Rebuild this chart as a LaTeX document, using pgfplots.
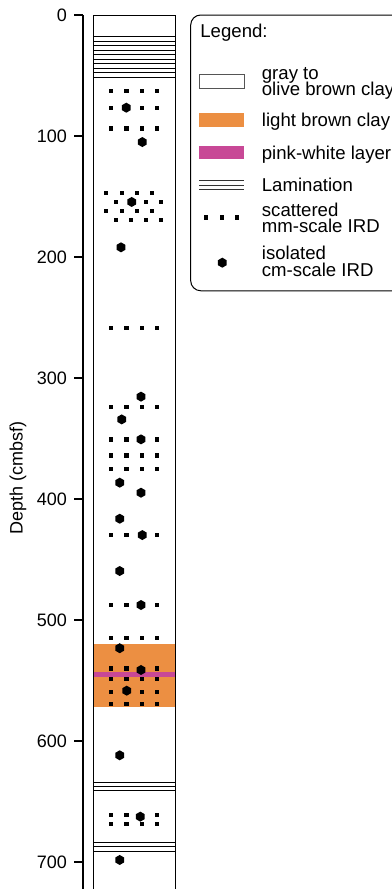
\documentclass[border=0pt]{standalone}
\usepackage{fontspec}
\setmainfont{Liberation Sans}
\usepackage{pgfplots}
\pgfplotsset{compat=1.18}
\definecolor{lbclay}{RGB}{236,143,66}
\definecolor{pinkw}{RGB}{200,72,150}
\definecolor{boxgray}{RGB}{85,85,85}
\pgfdeclareplotmark{hexa}{%
  \pgfpathmoveto{\pgfpointpolar{90}{\pgfplotmarksize}}%
  \pgfpathlineto{\pgfpointpolar{150}{\pgfplotmarksize}}%
  \pgfpathlineto{\pgfpointpolar{210}{\pgfplotmarksize}}%
  \pgfpathlineto{\pgfpointpolar{270}{\pgfplotmarksize}}%
  \pgfpathlineto{\pgfpointpolar{330}{\pgfplotmarksize}}%
  \pgfpathlineto{\pgfpointpolar{30}{\pgfplotmarksize}}%
  \pgfpathclose
  \pgfusepathqfill
}
\begin{document}
\begin{tikzpicture}[font=\fontsize{9}{10.8}\selectfont]
\begin{axis}[
  x=0.5pt, y=0.605pt, y dir=reverse,
  xmin=83, xmax=405, ymin=0, ymax=766,
  axis x line=none, axis y line=left,
  axis line style={-, line width=0.6pt, black},
  ytick={0,100,...,700}, xtick=\empty,
  tick align=outside, major tick length=4.5pt,
  tick style={line width=0.6pt, black},
  ytick pos=left,
  yticklabel style={font=\fontsize{9}{10.8}\selectfont},
  /pgf/number format/assume math mode=true,
  ylabel={Depth (cmbsf)},
  ylabel style={at={(axis description cs:-0.2019,0.5)}, anchor=center, font=\fontsize{9}{10.8}\selectfont},
  clip=false,
]
% light brown clay and pink-white layer
\addplot[fill=lbclay, draw=none] coordinates {(93,519.8)(175,519.8)(175,572.2)(93,572.2)} -- cycle;
\addplot[fill=pinkw, draw=none] coordinates {(93,543.2)(175,543.2)(175,546.8)(93,546.8)} -- cycle;
% column outline
\addplot[black, line width=0.5pt] coordinates {(93,0)(175,0)(175,766)(93,766)} -- cycle;
% laminations
\addplot[black, line width=0.5pt, unbounded coords=jump] coordinates {
(93,17.9)(175,17.9)(175,nan)
(93,21.6)(175,21.6)(175,nan)
(93,25.3)(175,25.3)(175,nan)
(93,29.1)(175,29.1)(175,nan)
(93,32.8)(175,32.8)(175,nan)
(93,36.5)(175,36.5)(175,nan)
(93,40.2)(175,40.2)(175,nan)
(93,43.9)(175,43.9)(175,nan)
(93,47.7)(175,47.7)(175,nan)
(93,51.4)(175,51.4)(175,nan)
(93,634.1)(175,634.1)(175,nan)
(93,637.7)(175,637.7)(175,nan)
(93,641.3)(175,641.3)(175,nan)
(93,683.7)(175,683.7)(175,nan)
(93,687.4)(175,687.4)(175,nan)
(93,691.1)(175,691.1)
};
% scattered mm-scale IRD
\addplot[only marks, mark=square*, mark size=0.8pt, mark options={draw=none, fill=black}] coordinates {
(111,62.8)(126.3,62.8)(141.5,62.8)(156.7,62.8)
(111,76.6)(141.5,76.6)(156.7,76.6)
(111,93.7)(126.3,93.7)(141.5,93.7)(156.7,93.7)
(106,146.8)(121.7,146.8)(136.7,146.8)(151.7,146.8)
(116,154.5)(146,154.5)(161,154.5)
(106,162)(121.7,162)(136.7,162)(151.7,162)
(116,169.4)(131,169.4)(146,169.4)(161,169.4)
(111,258.7)(126.3,258.7)(141.5,258.7)(156.7,258.7)
(111,324.2)(126.3,324.2)(141.5,324.2)(156.7,324.2)
(111,350.7)(126.3,350.7)(156.7,350.7)
(111,364)(126.3,364)(141.5,364)(156.7,364)
(111,375.2)(126.3,375.2)(141.5,375.2)(156.7,375.2)
(111,429.8)(126.3,429.8)(156.7,429.8)
(111,487.6)(126.3,487.6)(156.7,487.6)
(111,515.1)(126.3,515.1)(141.5,515.1)(156.7,515.1)
(111,540)(126.3,540)(156.7,540)
(111,548.5)(126.3,548.5)(141.5,548.5)(156.7,548.5)
(111,559.2)(141.5,559.2)(156.7,559.2)
(111,569.4)(126.3,569.4)(141.5,569.4)(156.7,569.4)
(111,661.2)(126.3,661.2)(156.7,661.2)
(111,668.6)(126.3,668.6)(141.5,668.6)(156.7,668.6)
};
% isolated cm-scale IRD
\addplot[only marks, mark=hexa, mark size=2.5pt, mark options={fill=black}] coordinates {
(126.3,76.6)(142.3,105)(131.7,154.5)(121,192)(141,315.4)(121.7,334.2)
(141,350.7)(119.7,386.5)(141,394.8)(119.7,416.3)(142.3,429.8)(119.7,459.5)
(141,487.6)(119.7,523.3)(141,541.3)(126.7,558.4)(119.7,611.8)(140.3,662.5)
(119.7,698.3)
};
% legend box
\addplot[black, line width=0.5pt, rounded corners=5pt] coordinates {(190.7,0)(412,0)(412,227.9)(190.7,227.9)} -- cycle;
\addplot[fill=white, draw=boxgray, line width=0.5pt] coordinates {(199.3,48.8)(244.3,48.8)(244.3,60.6)(199.3,60.6)} -- cycle;
\addplot[fill=lbclay, draw=none] coordinates {(199.3,80.7)(244.3,80.7)(244.3,92.3)(199.3,92.3)} -- cycle;
\addplot[fill=pinkw, draw=none] coordinates {(199.3,108)(244.3,108)(244.3,119)(199.3,119)} -- cycle;
\addplot[black!80, line width=0.5pt, unbounded coords=jump] coordinates {
(199.3,136.6)(244.3,136.6)(244.3,nan)
(199.3,140.7)(244.3,140.7)(244.3,nan)
(199.3,144.6)(244.3,144.6)
};
\addplot[only marks, mark=square*, mark size=0.8pt, mark options={draw=none, fill=black}] coordinates {(206,167.2)(221.7,167.2)(236.7,167.2)};
\addplot[only marks, mark=hexa, mark size=2.5pt, mark options={fill=black}] coordinates {(222.3,204.7)};
\begin{scope}[every node/.style={anchor=base west, inner sep=0pt, font=\fontsize{9.3}{11}\selectfont}]
\node at (axis cs:200,19.0) {Legend:};
\node at (axis cs:261.5,53.4) {gray to};
\node at (axis cs:261.5,66.6) {olive brown clay};
\node at (axis cs:261.5,91.9) {light brown clay};
\node at (axis cs:261.5,119.5) {pink-white layer};
\node at (axis cs:261.5,145.6) {Lamination};
\node at (axis cs:261.5,166.9) {scattered};
\node at (axis cs:261.5,180.1) {mm-scale IRD};
\node at (axis cs:261.5,202.1) {isolated};
\node at (axis cs:261.5,215.9) {cm-scale IRD};
\end{scope}
\coordinate (bbA) at (axis cs:0,-12.4);
\coordinate (bbB) at (axis cs:391,722.3);
\end{axis}
\pgfresetboundingbox
\path (bbA) rectangle (bbB);
\end{tikzpicture}
\end{document}
